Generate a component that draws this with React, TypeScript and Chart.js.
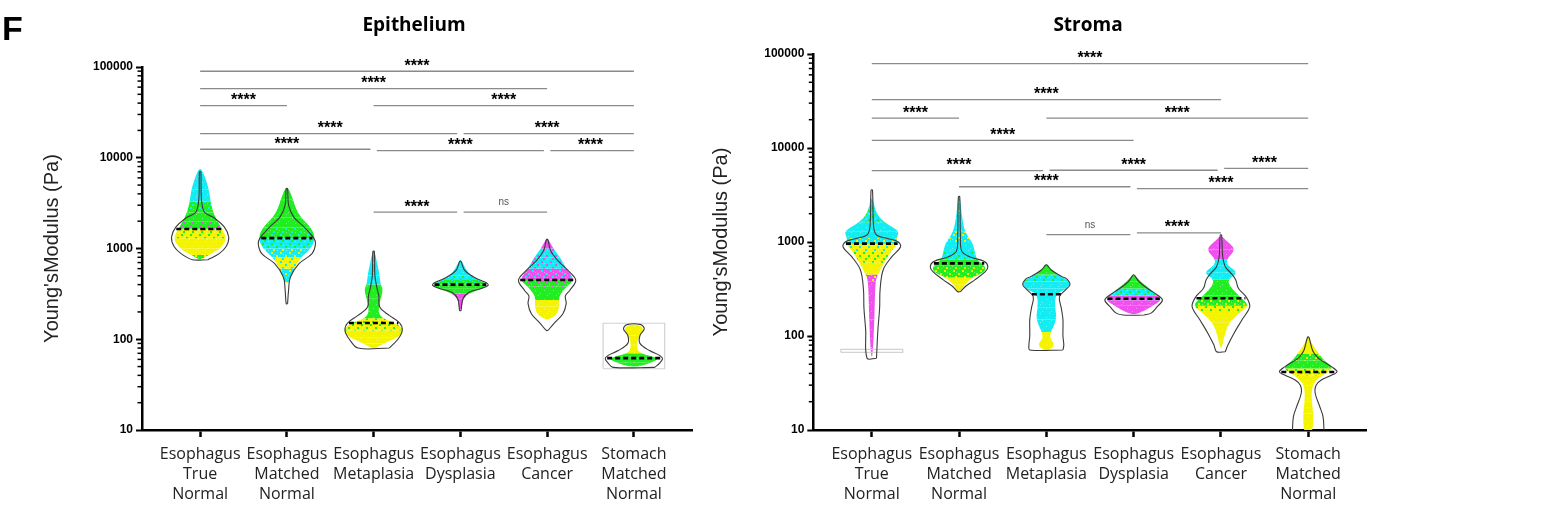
import React, { useEffect, useRef } from "react";
import { Chart, registerables } from "chart.js";

Chart.register(...registerables);

// ---------------- shared axis data ----------------
const categories: string[][] = [
  ["Esophagus", "True", "Normal"],
  ["Esophagus", "Matched", "Normal"],
  ["Esophagus", "Metaplasia"],
  ["Esophagus", "Dysplasia"],
  ["Esophagus", "Cancer"],
  ["Stomach", "Matched", "Normal"],
];
const yMajorTicks = [10, 100, 1000, 10000, 100000];
const yMinorSteps = [2, 3, 4, 5, 6, 7, 8, 9];
const yAxisTitle = "Young'sModulus (Pa)";
const panelTitles = ["Epithelium", "Stroma"];
const panelLetter = "F";

// colour keys used by the swarm bands
const COLORS: Record<string, string> = {
  C: "#14ecf4",
  G: "#22ec22",
  Y: "#f4f400",
  M: "#f050ee",
};

// violin profile: [value (Pa), half width (category units)]
// swarm knot: [value (Pa), half width, main colour, speckle colour]
// bracket: [from group, to group, value (Pa), label]

// ---------------- Epithelium ----------------
const epiViolins = [
  [[753, 0.09], [877, 0.22], [1050, 0.3], [1330, 0.33], [1720, 0.28], [2180, 0.16], [2510, 0.05], [3500, 0.015], [7000, 0.008]],
  [[246, 0.008], [350, 0.02], [484, 0.04], [680, 0.14], [877, 0.29], [1130, 0.33], [1300, 0.31], [1720, 0.2], [2220, 0.08], [3000, 0.02], [4570, 0.008]],
  [[80, 0.18], [100, 0.28], [125, 0.33], [151, 0.3], [183, 0.18], [226, 0.07], [300, 0.06], [360, 0.04], [500, 0.015], [930, 0.008]],
  [[207, 0.008], [280, 0.03], [330, 0.1], [365, 0.25], [392, 0.32], [420, 0.3], [470, 0.18], [574, 0.05], [720, 0.008]],
  [[125, 0.01], [150, 0.08], [190, 0.18], [247, 0.22], [300, 0.21], [345, 0.26], [445, 0.33], [550, 0.26], [740, 0.12], [950, 0.04], [1250, 0.008]],
  [[49, 0.24], [55, 0.3], [61, 0.33], [66, 0.3], [75, 0.18], [90, 0.07], [110, 0.07], [130, 0.12], [145, 0.08]],
];
const epiSwarms = [
  [[760, 0.02, "G", "Y"], [850, 0.1, "Y"], [1000, 0.24, "Y"], [1300, 0.31, "Y", "G"], [1650, 0.25, "G", "M"], [2000, 0.2, "G"], [2500, 0.15, "G", "C"], [3300, 0.12, "C"], [4500, 0.1, "C"], [6000, 0.06, "C"], [7500, 0.015, "C"]],
  [[420, 0.03, "C", "Y"], [600, 0.08, "Y", "C"], [800, 0.16, "C", "Y"], [1000, 0.28, "C", "G"], [1300, 0.33, "G", "C"], [1700, 0.28, "G"], [2200, 0.16, "G"], [2800, 0.1, "G"], [3500, 0.07, "G"], [4600, 0.02, "G"]],
  [[80, 0.02, "Y"], [90, 0.12, "Y"], [105, 0.28, "Y"], [125, 0.36, "Y", "G"], [150, 0.26, "Y", "G"], [170, 0.1, "G"], [200, 0.05, "G"], [280, 0.08, "G"], [350, 0.11, "G"], [400, 0.08, "C"], [500, 0.07, "C"], [700, 0.04, "C"], [935, 0.01, "C"]],
  [[215, 0.015, "M"], [280, 0.03, "M"], [320, 0.1, "G"], [360, 0.25, "G"], [400, 0.32, "G", "C"], [450, 0.22, "C", "G"], [500, 0.12, "C"], [600, 0.06, "C"], [740, 0.01, "C"]],
  [[165, 0.02, "Y"], [190, 0.12, "Y"], [230, 0.14, "Y"], [270, 0.14, "G"], [300, 0.14, "G"], [380, 0.22, "G", "M"], [450, 0.32, "M", "C"], [600, 0.22, "C", "M"], [800, 0.15, "C", "M"], [1000, 0.07, "M"], [1290, 0.01, "M"]],
  [[50, 0.05, "G"], [55, 0.2, "G"], [62, 0.3, "G"], [70, 0.06, "Y"], [85, 0.03, "Y"], [110, 0.06, "Y"], [130, 0.12, "Y"], [145, 0.05, "Y"]],
];
const epiMedians = [1640, 1300, 151, 400, 450, 62];
const epiBrackets = [
  [0, 5, 89800, "****"],
  [0, 4, 57800, "****"],
  [0, 1, 37500, "****"],
  [2, 5, 37500, "****"],
  [0, 3, 18400, "****"],
  [3, 5, 18400, "****"],
  [0, 2, 12400, "****"],
  [2, 4, 12000, "****"],
  [4, 5, 12000, "****"],
  [2, 3, 2520, "****"],
  [3, 4, 2520, "ns"],
];
// faint framing rectangles present in the source figure: [group, low, high]
const epiBoxes = [[5, 47.3, 150]];

// ---------------- Stroma ----------------
const strViolins = [
  [[58, 0.054], [116, 0.07], [200, 0.09], [309, 0.095], [504, 0.13], [698, 0.23], [891, 0.33], [1007, 0.3], [1090, 0.18], [1200, 0.05], [1500, 0.02], [3570, 0.008]],
  [[296, 0.015], [340, 0.08], [395, 0.18], [483, 0.3], [546, 0.33], [620, 0.29], [698, 0.12], [800, 0.03], [1200, 0.015], [3030, 0.008]],
  [[71, 0.19], [80, 0.2], [100, 0.19], [150, 0.19], [200, 0.17], [262, 0.15], [310, 0.22], [349, 0.27], [400, 0.24], [428, 0.18], [500, 0.06], [569, 0.008]],
  [[167, 0.12], [175, 0.2], [205, 0.27], [241, 0.33], [270, 0.28], [320, 0.16], [380, 0.06], [445, 0.008]],
  [[68, 0.05], [80, 0.08], [107, 0.15], [148, 0.24], [205, 0.33], [260, 0.29], [322, 0.2], [395, 0.17], [460, 0.12], [546, 0.05], [700, 0.02], [1186, 0.008]],
  [[8, 0.18], [10, 0.18], [13.8, 0.17], [18, 0.13], [24.6, 0.08], [30, 0.09], [34, 0.15], [38, 0.26], [41.7, 0.33], [47, 0.27], [55, 0.15], [60, 0.1], [70, 0.05], [97, 0.008]],
];
const strSwarms = [
  [[60, 0.01, "M"], [150, 0.03, "M"], [380, 0.04, "M", "Y"], [450, 0.07, "Y"], [600, 0.14, "Y", "G"], [800, 0.22, "Y", "C"], [960, 0.3, "C", "Y"], [1100, 0.28, "C"], [1300, 0.32, "C"], [1600, 0.15, "C", "G"], [2000, 0.05, "C", "G"], [2900, 0.01, "C"]],
  [[300, 0.02, "Y"], [350, 0.06, "Y"], [420, 0.15, "G", "Y"], [480, 0.3, "G", "Y"], [560, 0.3, "G"], [650, 0.2, "C", "G"], [800, 0.18, "C"], [1000, 0.15, "C", "Y"], [1300, 0.06, "C"], [2000, 0.03, "C", "Y"], [3000, 0.01, "C"]],
  [[70, 0.03, "Y"], [80, 0.1, "Y"], [95, 0.04, "Y"], [110, 0.05, "C"], [150, 0.12, "C"], [200, 0.1, "C"], [280, 0.1, "C"], [320, 0.25, "C"], [380, 0.28, "C", "G"], [450, 0.12, "G"], [569, 0.01, "G"]],
  [[170, 0.03, "M"], [185, 0.12, "M"], [210, 0.22, "M"], [240, 0.32, "M", "C"], [270, 0.28, "C", "G"], [320, 0.18, "G"], [380, 0.08, "G"], [445, 0.01, "G"]],
  [[75, 0.01, "Y"], [110, 0.05, "Y"], [140, 0.1, "Y"], [180, 0.22, "Y", "G"], [210, 0.33, "G", "Y"], [270, 0.2, "G"], [340, 0.1, "G"], [400, 0.08, "C"], [470, 0.2, "C"], [560, 0.08, "C"], [650, 0.06, "M"], [830, 0.17, "M"], [1000, 0.08, "M"], [1150, 0.01, "M"]],
  [[9, 0.05, "Y"], [15, 0.06, "Y"], [20, 0.04, "Y"], [30, 0.04, "Y"], [38, 0.15, "Y", "G"], [45, 0.3, "G"], [55, 0.18, "G", "Y"], [65, 0.12, "Y"], [80, 0.05, "Y"], [97, 0.01, "Y"]],
];
const strMedians = [960, 593, 278, 249, 252, 41.4];
const strBrackets = [
  [0, 5, 78900, "****"],
  [0, 4, 32700, "****"],
  [0, 1, 20800, "****"],
  [2, 5, 20800, "****"],
  [0, 3, 12080, "****"],
  [0, 2, 5740, "****"],
  [2, 4, 5800, "****"],
  [4, 5, 6080, "****"],
  [1, 3, 3870, "****"],
  [3, 5, 3690, "****"],
  [2, 3, 1197, "ns"],
  [3, 4, 1250, "****"],
];
const strBoxes = [[0, 67.1, 72.2]];

// ---------------- helpers ----------------
const BOX_HALF = 0.355;
const BRACKET_INSET = 0.037;
const FONT_SANS = '"Liberation Sans", Arial, sans-serif';

function widthAt(profile: number[][], v: number) {
  const lv = Math.log10(v);
  for (let i = 0; i < profile.length - 1; i++) {
    const a = Math.log10(profile[i][0]);
    const b = Math.log10(profile[i + 1][0]);
    if (lv >= a && lv <= b) {
      const t = (lv - a) / (b - a);
      return profile[i][1] + t * (profile[i + 1][1] - profile[i][1]);
    }
  }
  return profile[0][1];
}

function buildDatasets(p: any) {
  const ds: any[] = [];
  p.violins.forEach((prof: number[][], g: number) => {
    const right = prof.map(([v, w]) => ({ x: g + w, y: v }));
    const left = prof
      .slice()
      .reverse()
      .map(([v, w]) => ({ x: g - w, y: v }));
    ds.push({
      data: [...right, ...left, right[0]],
      borderColor: "#3a3a3a",
      borderWidth: 1.1,
      tension: 0.35,
      pointRadius: 0,
      fill: false,
      order: 3,
    });
  });
  p.boxes.forEach(([g, lo, hi]: number[]) => {
    ds.push({
      data: [
        { x: g - BOX_HALF, y: lo },
        { x: g + BOX_HALF, y: lo },
        { x: g + BOX_HALF, y: hi },
        { x: g - BOX_HALF, y: hi },
        { x: g - BOX_HALF, y: lo },
      ],
      borderColor: "#d2d2d2",
      borderWidth: 1.2,
      tension: 0,
      pointRadius: 0,
      fill: false,
      order: 4,
    });
  });
  p.medians.forEach((m: number, g: number) => {
    const w = widthAt(p.violins[g], m) * 0.95;
    ds.push({
      data: [
        { x: g - w, y: m },
        { x: g + w, y: m },
      ],
      borderColor: "#000",
      borderWidth: 2.6,
      borderDash: [5, 3],
      pointRadius: 0,
      fill: false,
      order: 0,
    });
  });
  p.brackets.forEach((self: any[]) => {
    const [a, b, v] = self;
    const shared = (k: number) =>
      p.brackets.some(
        (o: any[]) =>
          o !== self &&
          Math.abs(Math.log10(o[2]) - Math.log10(v)) < 0.06 &&
          (o[0] === k || o[1] === k)
      );
    const ia = shared(a) ? BRACKET_INSET : 0;
    const ib = shared(b) ? BRACKET_INSET : 0;
    ds.push({
      data: [
        { x: a + ia, y: v },
        { x: b - ib, y: v },
      ],
      borderColor: "#8a8a8a",
      borderWidth: 1.3,
      pointRadius: 0,
      fill: false,
      order: 1,
    });
  });
  return ds;
}

function makeSwarmPlugin(swarms: any[][]) {
  const cache = new Map<string, CanvasPattern | null>();
  const pattern = (ctx: CanvasRenderingContext2D, c1: string, c2?: string) => {
    const key = c1 + (c2 || "");
    if (cache.has(key)) return cache.get(key);
    const t = document.createElement("canvas");
    t.width = 9;
    t.height = 9;
    const g = t.getContext("2d")!;
    g.fillStyle = COLORS[c1];
    g.fillRect(0, 0, 9, 9);
    if (c2) {
      g.fillStyle = COLORS[c2];
      g.fillRect(1, 0, 2, 2);
      g.fillRect(6, 3, 2, 2);
      g.fillRect(3, 6, 2, 2);
    }
    g.fillStyle = "rgba(255,255,255,0.35)";
    g.fillRect(7, 7, 1, 1);
    g.fillRect(4, 2, 1, 1);
    g.fillRect(0, 5, 1, 1);
    const pat = ctx.createPattern(t, "repeat");
    cache.set(key, pat);
    return pat;
  };
  return {
    id: "swarmFill",
    beforeDatasetsDraw(chart: any) {
      const { ctx, chartArea: a, scales } = chart;
      const xs = scales.x;
      const ys = scales.y;
      ctx.save();
      ctx.beginPath();
      ctx.rect(a.left, a.top, a.right - a.left, a.bottom - a.top);
      ctx.clip();
      swarms.forEach((knots: any[], g: number) => {
        const R = knots.map((k) => [xs.getPixelForValue(g + k[1]), ys.getPixelForValue(k[0])]);
        const L = knots
          .map((k) => [xs.getPixelForValue(g - k[1]), ys.getPixelForValue(k[0])])
          .reverse();
        const pts = R.concat(L);
        const n = pts.length;
        const mid = (p: number[], q: number[]) => [(p[0] + q[0]) / 2, (p[1] + q[1]) / 2];
        const path = new Path2D();
        const m0 = mid(pts[n - 1], pts[0]);
        path.moveTo(m0[0], m0[1]);
        for (let i = 0; i < n; i++) {
          const p = pts[i];
          const m = mid(p, pts[(i + 1) % n]);
          path.quadraticCurveTo(p[0], p[1], m[0], m[1]);
        }
        path.closePath();
        for (let k = 0; k < knots.length - 1; k++) {
          const yLo = k === 0 ? a.bottom + 20 : ys.getPixelForValue(knots[k][0]);
          const yHi = k === knots.length - 2 ? a.top - 20 : ys.getPixelForValue(knots[k + 1][0]);
          ctx.save();
          ctx.beginPath();
          ctx.rect(a.left, yHi, a.right - a.left, yLo - yHi);
          ctx.clip();
          ctx.fillStyle = pattern(ctx, knots[k][2], knots[k][3]);
          ctx.fill(path);
          ctx.restore();
        }
      });
      ctx.restore();
    },
  };
}

function makeLabelPlugin(brackets: any[][]) {
  return {
    id: "bracketLabels",
    afterDatasetsDraw(chart: any) {
      const { ctx, chartArea, scales } = chart;
      const xs = scales.x;
      const ys = scales.y;
      ctx.save();
      ctx.textAlign = "center";
      ctx.textBaseline = "alphabetic";
      brackets.forEach(([a, b, v, label]) => {
        const cx = xs.getPixelForValue((a + b) / 2);
        const py = ys.getPixelForValue(v);
        if (label === "ns") {
          ctx.font = '10px "Liberation Sans Narrow", ' + FONT_SANS;
          ctx.fillStyle = "#555";
          ctx.fillText(label, cx, py - 7);
        } else {
          ctx.font = "bold 16px " + FONT_SANS;
          ctx.fillStyle = "#000";
          ctx.fillText(label, cx, py - 0.5);
        }
      });
      // minor log ticks
      ctx.strokeStyle = "#000";
      ctx.lineWidth = 1.5;
      yMajorTicks.slice(0, -1).forEach((d) =>
        yMinorSteps.forEach((m) => {
          const py = ys.getPixelForValue(d * m);
          ctx.beginPath();
          ctx.moveTo(chartArea.left - 1, py);
          ctx.lineTo(chartArea.left - 4.5, py);
          ctx.stroke();
        })
      );
      ctx.restore();
    },
  };
}

type PanelProps = {
  data: any;
  left: number;
  width: number;
  axisWidth: number;
  padRight: number;
  padTop: number;
  titlePad: number;
};

const HEIGHT = 517;
const X_AXIS_HEIGHT = 87;

function Panel({ data, left, width, axisWidth, padRight, padTop, titlePad }: PanelProps) {
  const ref = useRef<HTMLCanvasElement | null>(null);
  useEffect(() => {
    const chart = new Chart(ref.current as HTMLCanvasElement, {
      type: "line",
      data: { datasets: buildDatasets(data) },
      plugins: [makeSwarmPlugin(data.swarms), makeLabelPlugin(data.brackets)],
      options: {
        animation: false,
        responsive: false,
        devicePixelRatio: 1,
        layout: { padding: { left: 0, right: padRight, top: padTop, bottom: 0 } },
        plugins: { legend: { display: false }, tooltip: { enabled: false } },
        scales: {
          x: {
            type: "linear",
            min: -0.67,
            max: 5.67,
            afterBuildTicks: (axis: any) => {
              axis.ticks = categories.map((_, i) => ({ value: i }));
            },
            afterFit: (axis: any) => {
              axis.height = X_AXIS_HEIGHT;
            },
            ticks: {
              autoSkip: false,
              maxRotation: 0,
              minRotation: 0,
              padding: 8,
              color: "#222",
              font: { family: '"Open Sans", "Noto Sans", sans-serif', size: 16, lineHeight: 1.23 },
              callback: (v: any) => categories[v] ?? "",
            },
            grid: { drawOnChartArea: false, drawTicks: true, tickLength: 7, tickWidth: 2.5, tickColor: "#000" },
            border: { display: true, color: "#000", width: 2.5 },
          },
          y: {
            type: "logarithmic",
            min: 10,
            max: 100000,
            afterBuildTicks: (axis: any) => {
              axis.ticks = yMajorTicks.map((v) => ({ value: v }));
            },
            afterFit: (axis: any) => {
              axis.width = axisWidth;
            },
            ticks: {
              autoSkip: false,
              padding: 3,
              color: "#000",
              font: { family: FONT_SANS, size: 12, weight: "bold" },
              callback: (v: any) => String(v),
            },
            grid: { drawOnChartArea: false, drawTicks: true, tickLength: 6, tickWidth: 2, tickColor: "#000" },
            border: { display: true, color: "#000", width: 2.5 },
            title: {
              display: true,
              text: yAxisTitle,
              color: "#222",
              font: { family: FONT_SANS, size: 20 },
              padding: { top: titlePad, bottom: 0 },
            },
          },
        },
      } as any,
    } as any);
    return () => chart.destroy();
  }, []);
  return (
    <canvas
      ref={ref}
      width={width}
      height={HEIGHT}
      style={{ position: "absolute", left, top: 0, width, height: HEIGHT }}
    />
  );
}

const epiPanel = { violins: epiViolins, swarms: epiSwarms, medians: epiMedians, brackets: epiBrackets, boxes: epiBoxes };
const strPanel = { violins: strViolins, swarms: strSwarms, medians: strMedians, brackets: strBrackets, boxes: strBoxes };

export default function App() {
  return (
    <div
      style={{
        position: "absolute",
        left: 0,
        top: 0,
        width: 1543,
        height: 517,
        background: "#fff",
        overflow: "hidden",
      }}
    >
      <Panel data={epiPanel} left={0} width={700} axisWidth={142} padRight={8} padTop={67} titlePad={40} />
      <Panel data={strPanel} left={700} width={700} axisWidth={113.3} padRight={33.3} padTop={54} titlePad={9} />
      <div
        style={{
          position: "absolute",
          left: 2,
          top: 10.6,
          fontFamily: FONT_SANS,
          fontWeight: "bold",
          fontSize: 34,
          lineHeight: "34px",
          color: "#000",
        }}
      >
        {panelLetter}
      </div>
      {panelTitles.map((t, i) => (
        <div
          key={t}
          style={{
            position: "absolute",
            left: i === 0 ? 414 : 1088,
            top: 14.6,
            transform: "translateX(-50%)",
            fontFamily: '"Open Sans", "Noto Sans", sans-serif',
            fontWeight: "bold",
            fontSize: 19,
            lineHeight: "19px",
            whiteSpace: "nowrap",
            color: "#000",
          }}
        >
          {t}
        </div>
      ))}
    </div>
  );
}
